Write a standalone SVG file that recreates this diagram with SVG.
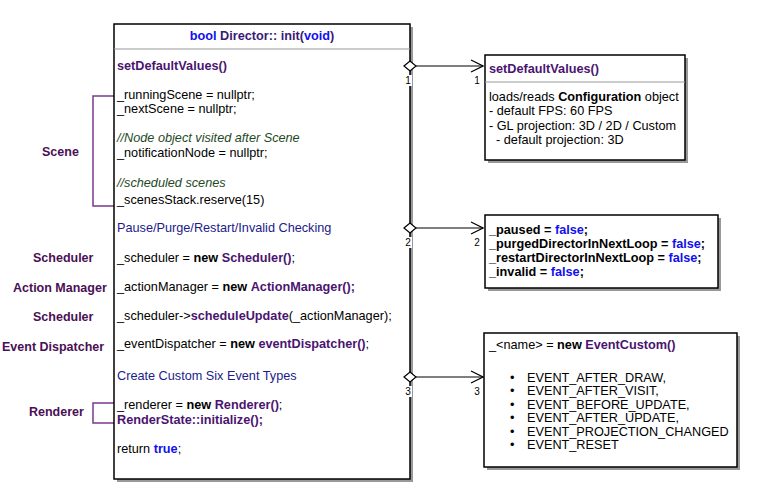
<svg xmlns="http://www.w3.org/2000/svg" width="780" height="500" viewBox="0 0 780 500">
<defs>
<style>
text{font-family:"Liberation Sans",Arial,sans-serif;font-size:12.7px;fill:#000}
.b{font-weight:bold}
.pu{fill:#4a1470;font-weight:bold}
.bl{fill:#1010ee;font-weight:bold}
.nb{fill:#221a8c}
.cm{fill:#1f4a1f;font-style:italic}
.lbl{fill:#4a0f55;font-weight:bold;font-size:12.5px}
.sm{font-size:10px;fill:#000}
.box{fill:#fff;stroke:#000;stroke-width:1.5}
.shd{fill:#999}
.sep{stroke:#999;stroke-width:1}
.br{fill:none;stroke:#7a3a8c;stroke-width:1.5}
.con{stroke:#000;stroke-width:1.2;fill:none}
.lb{fill:#fff}
</style>
<marker id="open" markerWidth="14" markerHeight="14" refX="13" refY="7" orient="auto" markerUnits="userSpaceOnUse">
<path d="M1,1 L13,7 L1,13" fill="none" stroke="#000" stroke-width="1.2"/>
</marker>
</defs>
<rect width="780" height="500" fill="#fff"/>

<g id="labels">
<text class="lbl" x="42" y="156">Scene</text>
<text class="lbl" x="33" y="262">Scheduler</text>
<text class="lbl" x="13" y="292">Action Manager</text>
<text class="lbl" x="33" y="321">Scheduler</text>
<text class="lbl" x="2" y="351">Event Dispatcher</text>
<text class="lbl" x="29" y="416">Renderer</text>
<path class="br" d="M114,96 H93 V206 H114"/>
<path class="br" d="M114,403 H93 V423 H114"/>
</g>

<g id="init">
<rect class="shd" x="117" y="27" width="296" height="455"/>
<rect class="box" x="114" y="24" width="296" height="455"/>
<line class="sep" x1="114" y1="49" x2="410" y2="49"/>
<text x="262" y="40" text-anchor="middle" class="b"><tspan class="bl">bool</tspan><tspan fill="#3a1a78"> Director:: init(</tspan><tspan class="bl">void</tspan><tspan fill="#3a1a78">)</tspan></text>
<text class="pu" x="117" y="70">setDefaultValues()</text>
<text x="117" y="99">_runningScene = nullptr;</text>
<text x="117" y="113">_nextScene = nullptr;</text>
<text class="cm" x="117" y="142">//Node object visited after Scene</text>
<text x="117" y="157">_notificationNode = nullptr;</text>
<text class="cm" x="117" y="187">//scheduled scenes</text>
<text x="117" y="204">_scenesStack.reserve(15)</text>
<text class="nb" x="117" y="232">Pause/Purge/Restart/Invalid Checking</text>
<text x="117" y="262">_scheduler = <tspan class="b">new</tspan> <tspan class="pu">Scheduler()</tspan>;</text>
<text x="117" y="291">_actionManager = <tspan class="b">new</tspan> <tspan class="pu">ActionManager();</tspan></text>
<text x="117" y="320">_scheduler-&gt;<tspan class="pu">scheduleUpdate</tspan>(_actionManager);</text>
<text x="117" y="348">_eventDispatcher = <tspan class="b">new</tspan> <tspan class="pu">eventDispatcher()</tspan>;</text>
<text class="nb" x="117" y="380">Create Custom Six Event Types</text>
<text x="117" y="409">_renderer = <tspan class="b">new</tspan> <tspan class="pu">Renderer()</tspan>;</text>
<text class="pu" x="117" y="424">RenderState::initialize();</text>
<text x="117" y="453">return <tspan class="bl">true</tspan>;</text>
</g>

<g id="defaults">
<rect class="shd" x="488" y="58" width="200" height="105"/>
<rect class="box" x="485" y="55" width="200" height="105"/>
<line class="sep" x1="485" y1="82" x2="685" y2="82"/>
<text class="pu" x="489" y="73">setDefaultValues()</text>
<text x="489" y="101">loads/reads <tspan class="b">Configuration</tspan> object</text>
<text x="489" y="115">- default FPS: 60 FPS</text>
<text x="489" y="130">- GL projection: 3D / 2D / Custom</text>
<text x="489" y="144" xml:space="preserve">  - default projection: 3D</text>
</g>

<g id="flags">
<rect class="shd" x="488" y="218" width="233" height="73"/>
<rect class="box" x="485" y="215" width="233" height="73"/>
<text class="b" x="489" y="234">_paused = <tspan class="bl">false</tspan>;</text>
<text class="b" x="489" y="248">_purgedDirectorInNextLoop = <tspan class="bl">false</tspan>;</text>
<text class="b" x="489" y="262">_restartDirectorInNextLoop = <tspan class="bl">false</tspan>;</text>
<text class="b" x="489" y="276">_invalid = <tspan class="bl">false</tspan>;</text>
</g>

<g id="events">
<rect class="shd" x="487" y="336" width="253" height="134"/>
<rect class="box" x="484" y="333" width="253" height="134"/>
<text x="489" y="349">_&lt;name&gt; = <tspan class="b">new</tspan> <tspan class="pu">EventCustom()</tspan></text>
<text x="510" y="382">•</text><text x="527" y="382">EVENT_AFTER_DRAW,</text>
<text x="510" y="395">•</text><text x="527" y="395">EVENT_AFTER_VISIT,</text>
<text x="510" y="409">•</text><text x="527" y="409">EVENT_BEFORE_UPDATE,</text>
<text x="510" y="422">•</text><text x="527" y="422">EVENT_AFTER_UPDATE,</text>
<text x="510" y="436">•</text><text x="527" y="436">EVENT_PROJECTION_CHANGED</text>
<text x="510" y="449">•</text><text x="527" y="449">EVENT_RESET</text>
</g>

<g id="connectors">
<line class="con" x1="416" y1="66" x2="483" y2="66" marker-end="url(#open)"/>
<path d="M404,66 L410,61 L416,66 L410,71 Z" fill="#fff" stroke="#000" stroke-width="1.2"/>
<rect class="lb" x="404" y="75" width="8" height="11"/>
<text class="sm" x="408" y="84" text-anchor="middle">1</text>
<text class="sm" x="477" y="84" text-anchor="middle">1</text>
<line class="con" x1="416" y1="228" x2="483" y2="228" marker-end="url(#open)"/>
<path d="M404,228 L410,223 L416,228 L410,233 Z" fill="#fff" stroke="#000" stroke-width="1.2"/>
<rect class="lb" x="404" y="237" width="8" height="11"/>
<text class="sm" x="408" y="246" text-anchor="middle">2</text>
<text class="sm" x="477" y="246" text-anchor="middle">2</text>
<line class="con" x1="416" y1="377" x2="483" y2="377" marker-end="url(#open)"/>
<path d="M404,377 L410,372 L416,377 L410,382 Z" fill="#fff" stroke="#000" stroke-width="1.2"/>
<rect class="lb" x="404" y="386" width="8" height="11"/>
<text class="sm" x="408" y="395" text-anchor="middle">3</text>
<text class="sm" x="477" y="395" text-anchor="middle">3</text>
</g>
</svg>
